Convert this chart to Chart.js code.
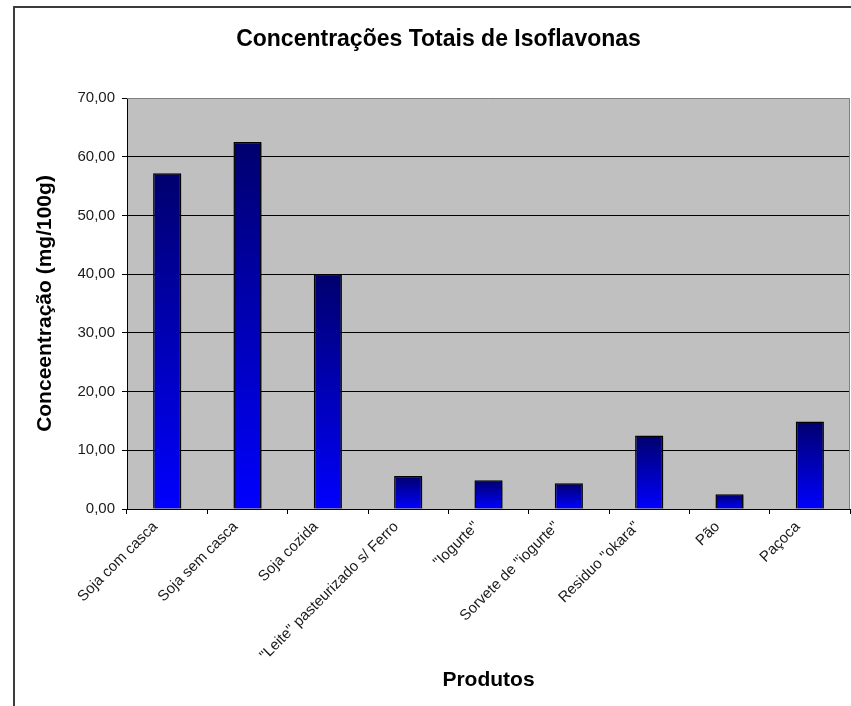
<!DOCTYPE html>
<html lang="pt">

<head>
    <meta charset="UTF-8">
    <title>Concentrações Totais de Isoflavonas</title>
    <script src="https://cdn.jsdelivr.net/npm/chart.js"></script>
    <style>
        html, body { margin: 0; padding: 0; background: #fff; }
    </style>
</head>

<body>
    <canvas id="grafico" width="851" height="706"></canvas>

    <script>
        // Dados
        const produtos = [
            'Soja com casca',
            'Soja sem casca',
            'Soja cozida',
            '"Leite" pasteurizado s/ Ferro',
            '"Iogurte"',
            'Sorvete de "iogurte"',
            'Residuo "okara"',
            'Pão',
            'Paçoca'
        ];
        const concentracoes = [57.2, 62.5, 40.0, 5.6, 4.9, 4.4, 12.5, 2.5, 14.9];
        const valoresEixoY = [0, 10, 20, 30, 40, 50, 60, 70];

        const fonte = '"Liberation Sans", Arial, sans-serif';

        // Fundo cinza da área de plotagem + moldura do gráfico
        const fundoPlot = {
            id: 'fundoPlot',
            beforeDraw(chart) {
                const { ctx, chartArea: a } = chart;
                ctx.save();
                ctx.fillStyle = '#fff';
                ctx.fillRect(0, 0, chart.width, chart.height);
                ctx.strokeStyle = '#3c3c3c';
                ctx.lineWidth = 2;
                ctx.strokeRect(14, 7, chart.width + 40, chart.height + 40);
                ctx.fillStyle = '#c0c0c0';
                ctx.fillRect(a.left, a.top, a.right - a.left, a.bottom - a.top);
                ctx.restore();
            },
            beforeDatasetsDraw(chart) {
                const { ctx, chartArea: a } = chart;
                ctx.save();
                ctx.strokeStyle = '#808080';
                ctx.lineWidth = 1;
                ctx.beginPath();
                ctx.moveTo(a.left, a.top + 0.5);
                ctx.lineTo(a.right - 0.5, a.top + 0.5);
                ctx.lineTo(a.right - 0.5, a.bottom);
                ctx.stroke();
                ctx.restore();
            },
            beforeDatasetDraw(chart) {
                const ctx = chart.ctx;
                ctx.save();
                ctx.shadowColor = 'rgba(0,0,0,0.35)';
                ctx.shadowOffsetX = 2;
                ctx.shadowOffsetY = 1;
                ctx.shadowBlur = 0;
            },
            afterDatasetDraw(chart) {
                chart.ctx.restore();
            }
        };

        // degradê de cada barra: azul-marinho no topo, azul na base
        function degrade(c) {
            const chart = c.chart;
            const y = chart.scales && chart.scales.y;
            if (c.type !== 'data' || !y || typeof c.raw !== 'number') return '#0000cc';
            const topo = y.getPixelForValue(c.raw);
            const base = y.getPixelForValue(0);
            if (!isFinite(topo) || !isFinite(base) || topo === base) return '#0000cc';
            const g = chart.ctx.createLinearGradient(0, topo, 0, base);
            g.addColorStop(0, '#00006e');
            g.addColorStop(1, '#0000ff');
            return g;
        }

        const grafico = new Chart(document.getElementById('grafico').getContext('2d'), {
            type: 'bar',
            data: {
                labels: produtos,
                datasets: [{
                    data: concentracoes,
                    backgroundColor: degrade,
                    borderColor: '#000',
                    borderWidth: 1.5,
                    borderSkipped: 'bottom',
                    barPercentage: 0.35,
                    categoryPercentage: 1
                }]
            },
            options: {
                responsive: false,
                animation: false,
                layout: {
                    padding: { left: 27, right: 1, top: 16, bottom: 12 }
                },
                plugins: {
                    legend: { display: false },
                    tooltip: { enabled: false },
                    title: {
                        display: true,
                        text: 'Concentrações Totais de Isoflavonas',
                        color: '#000',
                        font: { family: fonte, size: 23, weight: 'bold' },
                        padding: { top: 9.7, bottom: 44.7 }
                    }
                },
                scales: {
                    x: {
                        offset: true,
                        grid: {
                            offset: true,
                            drawOnChartArea: false,
                            drawTicks: true,
                            tickLength: 5,
                            color: '#000'
                        },
                        border: { color: '#000', width: 1 },
                        ticks: {
                            color: '#1a1a1a',
                            font: { family: fonte, size: 15 },
                            minRotation: 45,
                            maxRotation: 45,
                            autoSkip: false,
                            labelOffset: -12,
                            padding: 4
                        },
                        title: {
                            display: true,
                            text: 'Produtos',
                            color: '#000',
                            font: { family: fonte, size: 21, weight: 'bold' },
                            padding: { top: 4, bottom: 1 }
                        },
                        afterFit: function (s) { s.height = 185; }
                    },
                    y: {
                        min: 0,
                        max: 70,
                        afterBuildTicks: function (s) {
                            s.ticks = valoresEixoY.map(v => ({ value: v }));
                        },
                        grid: {
                            color: function (c) {
                                return c.tick && c.tick.value === 70 ? 'rgba(0,0,0,0)' : '#000';
                            },
                            tickColor: '#000',
                            lineWidth: 1,
                            tickLength: 5
                        },
                        border: { color: '#000', width: 1 },
                        ticks: {
                            color: '#1a1a1a',
                            font: { family: fonte, size: 15 },
                            padding: 7,
                            callback: function (v) {
                                return v.toFixed(2).replace('.', ',');
                            }
                        },
                        title: {
                            display: true,
                            text: 'Conceentração (mg/100g)',
                            color: '#000',
                            font: { family: fonte, size: 21, weight: 'bold' },
                            padding: { top: 5.4, bottom: 0 }
                        },
                        afterFit: function (s) { s.width = 100; }
                    }
                }
            },
            plugins: [fundoPlot]
        });
    </script>
</body>

</html>
